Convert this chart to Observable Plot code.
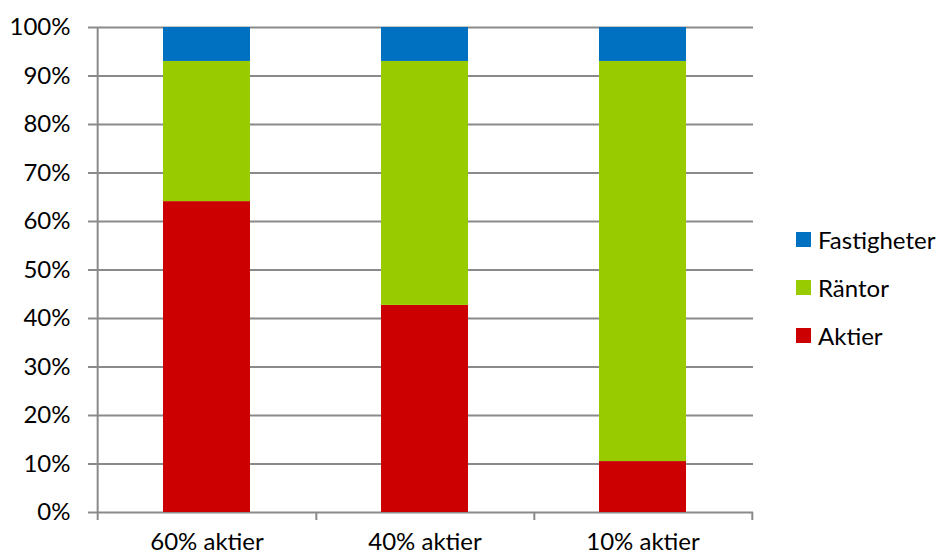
<!DOCTYPE html>
<html><head><meta charset="utf-8">
<script src="https://cdn.jsdelivr.net/npm/d3@7"></script>
<script src="https://cdn.jsdelivr.net/npm/@observablehq/plot@0.6"></script>
<style>
body{margin:0;background:#fff;}
#wrap{position:relative;width:941px;height:555px;font-family:Lato,"Open Sans",sans-serif;}
#legend{position:absolute;left:796px;top:216px;}
.row{display:flex;align-items:center;height:47.7px;font-size:24px;color:#000;}
.sw{width:15px;height:15px;margin-right:7px;}
</style></head><body><div id="wrap"></div>
<script>
const categories = ["60% aktier", "40% aktier", "10% aktier"];
const series = ["Aktier", "Räntor", "Fastigheter"];
const aktier = [64.1, 42.7, 10.5];
const rantor = [28.9, 50.3, 82.5];
const fastigheter = [7.0, 7.0, 7.0];
const colors = ["#CC0000", "#99CC00", "#0070C0"];
const yTicks = [0, 10, 20, 30, 40, 50, 60, 70, 80, 90, 100];

const values = {"Aktier": aktier, "Räntor": rantor, "Fastigheter": fastigheter};
const data = categories.flatMap((c, i) => series.map(s => ({cat: c, serie: s, value: values[s][i]})));

const W = 941, H = 555, mL = 97, mR = 188, mT = 27, mB = 43;
const step = (W - mL - mR) / categories.length;
const grid = "#8a8a8a";

const chart = Plot.plot({
  width: W, height: H,
  marginLeft: mL, marginRight: mR, marginTop: mT, marginBottom: mB,
  style: {fontFamily: 'Lato, "Open Sans", sans-serif', background: "#fff", color: "#000"},
  x: {domain: categories, paddingInner: 0.6, paddingOuter: 0.3},
  y: {domain: [0, 100]},
  color: {domain: series, range: colors},
  marks: [
    Plot.ruleY(yTicks, {stroke: grid, strokeWidth: 2}),
    Plot.barY(data, {x: "cat", y: "value", fill: "serie"}),
    Plot.ruleX([categories[0]], {dx: -step / 2, stroke: grid, strokeWidth: 2}),
    Plot.axisY(yTicks, {tickSize: 9, tickPadding: 18, tickFormat: d => d + "%", stroke: grid, strokeWidth: 2, fontSize: 24, fill: "#000", label: null}),
    Plot.axisX({tickSize: 8, dx: step / 2, tickFormat: () => "", stroke: grid, strokeWidth: 2, label: null}),
    Plot.axisX([categories[0]], {tickSize: 8, dx: -step / 2, tickFormat: () => "", stroke: grid, strokeWidth: 2, label: null}),
    Plot.axisX({tickSize: 0, tickPadding: 20, fontSize: 24, fill: "#000", label: null})
  ]
});
const wrap = document.getElementById("wrap");
wrap.appendChild(chart);

const legend = document.createElement("div");
legend.id = "legend";
[...series].reverse().forEach(s => {
  const row = document.createElement("div");
  row.className = "row";
  const sw = document.createElement("div");
  sw.className = "sw";
  sw.style.background = colors[series.indexOf(s)];
  const t = document.createElement("span");
  t.textContent = s;
  row.appendChild(sw); row.appendChild(t);
  legend.appendChild(row);
});
wrap.appendChild(legend);
</script>
</body></html>
